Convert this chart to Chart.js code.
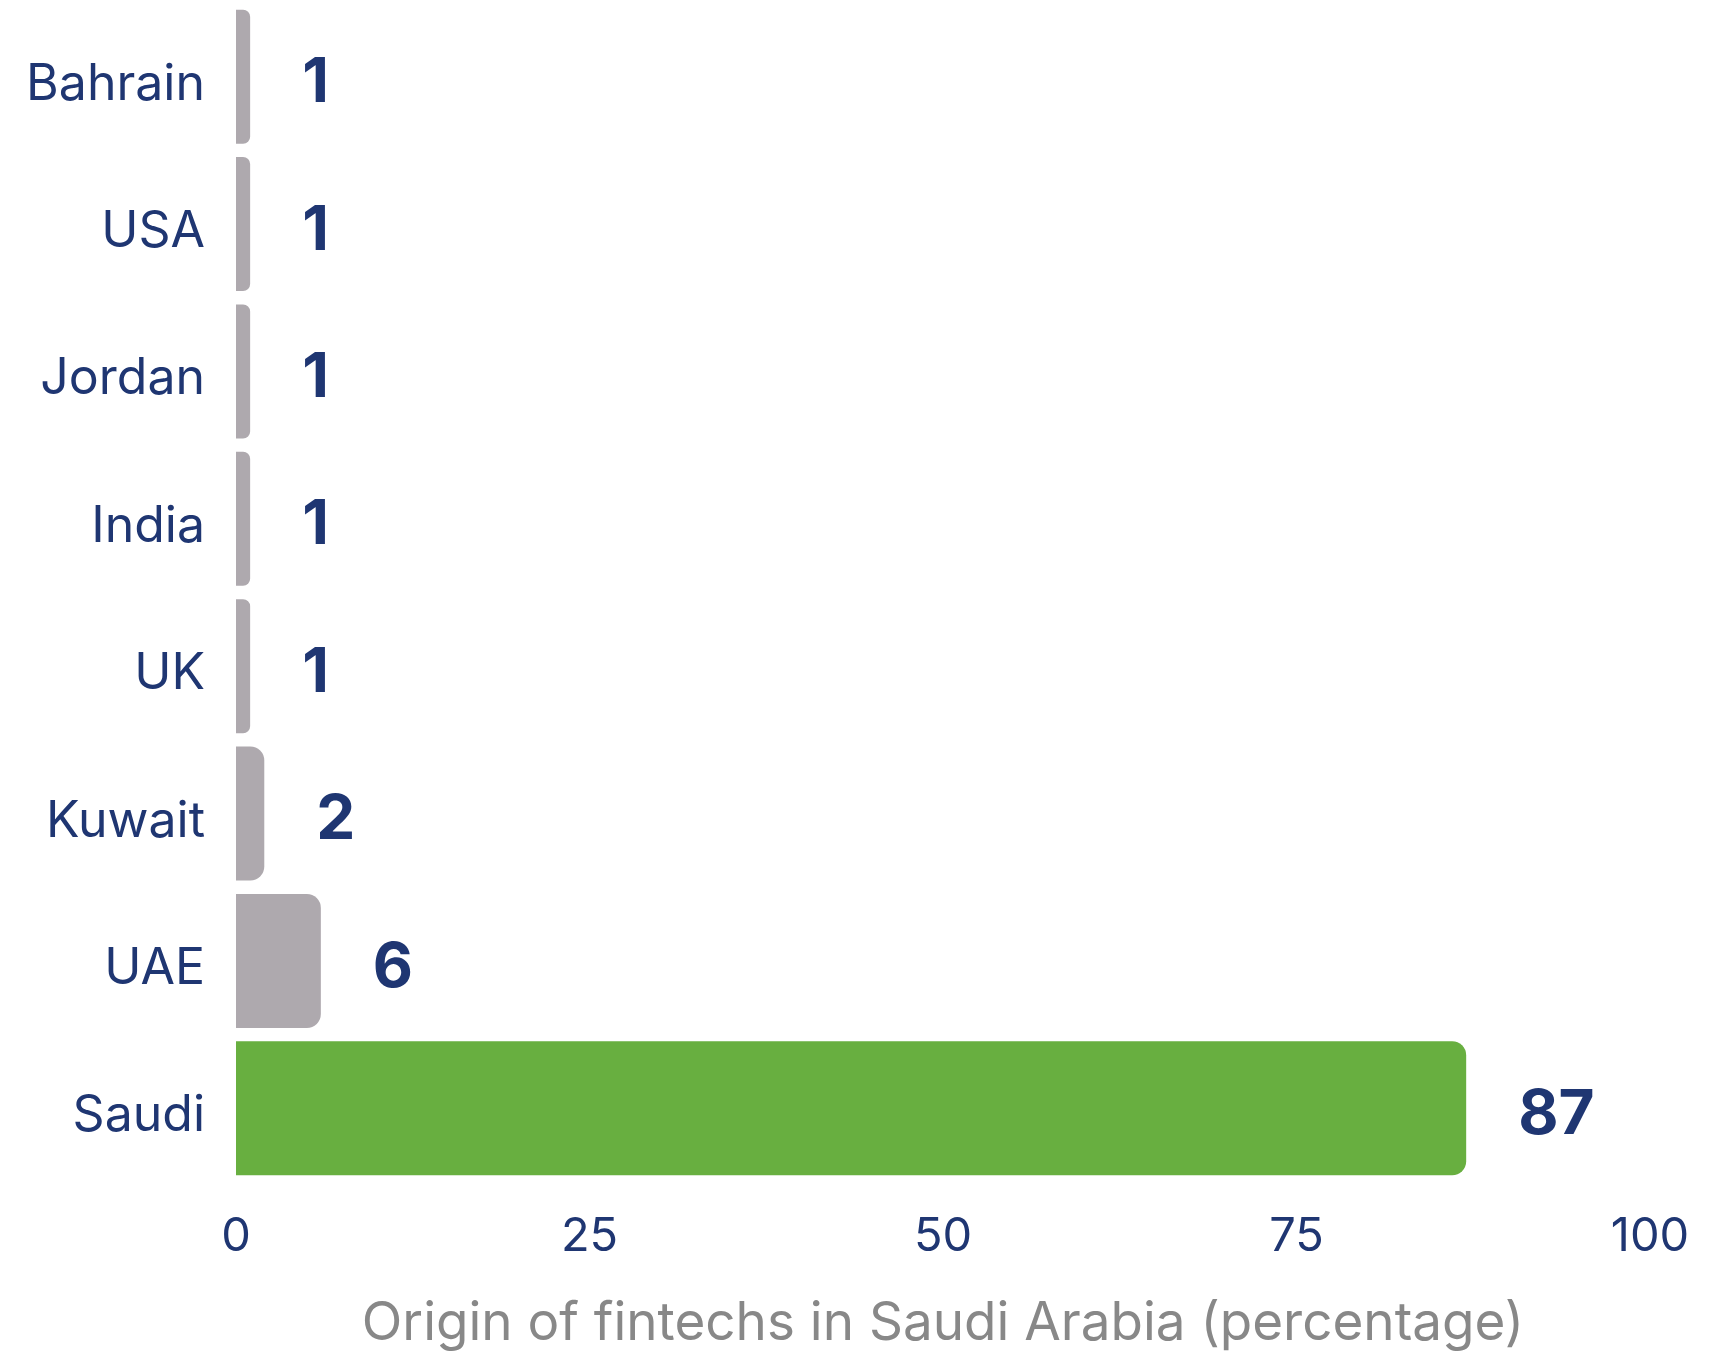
<!DOCTYPE html>
<html>
<head>
<meta charset="utf-8">
<script src="https://cdn.jsdelivr.net/npm/chart.js@4"></script>
<style>
    html, body { margin: 0; padding: 0; background: #fff; }
    #wrap { width: 1721px; height: 1351px; }
</style>
</head>
<body>
<div id="wrap"><canvas id="originChart"></canvas></div>
<script>
const countries = ["Bahrain", "USA", "Jordan", "India", "UK", "Kuwait", "UAE", "Saudi"];
const shares = [1, 1, 1, 1, 1, 2, 6, 87];
const xTicks = [0, 25, 50, 75, 100];

const navy = "#1f3672";
const grey = "#aea9ae";
const green = "#68af40";
const font = "Inter, 'Noto Sans', sans-serif";

/* value labels to the right of each bar */
const valueLabels = {
    id: "valueLabels",
    afterDatasetsDraw(chart) {
        const ctx = chart.ctx;
        ctx.save();
        ctx.fillStyle = navy;
        ctx.font = "bold 62px " + font;
        ctx.textAlign = "left";
        ctx.textBaseline = "middle";
        chart.getDatasetMeta(0).data.forEach(function (bar, i) {
            ctx.fillText(String(shares[i]), bar.x + 52, bar.y + 7);
        });
        ctx.restore();
    }
};

new Chart(document.getElementById("originChart"), {
    type: "bar",
    data: {
        labels: countries,
        datasets: [{
            data: shares,
            backgroundColor: countries.map(c => c === "Saudi" ? green : grey),
            borderRadius: { topRight: 14, bottomRight: 14 },
            borderSkipped: "start",
            barPercentage: 0.91,
            categoryPercentage: 1
        }]
    },
    options: {
        indexAxis: "y",
        responsive: true,
        maintainAspectRatio: false,
        animation: false,
        layout: { padding: { top: 3, right: 71, left: 0, bottom: 0 } },
        plugins: {
            legend: { display: false },
            tooltip: { enabled: false }
        },
        scales: {
            x: {
                min: 0,
                max: 100,
                afterBuildTicks(scale) {
                    scale.ticks = xTicks.map(v => ({ value: v }));
                },
                afterFit(scale) {
                    scale.height = 169;
                    scale.paddingLeft = 0;
                    scale.paddingRight = 0;
                },
                grid: { display: false, drawTicks: false },
                border: { display: false },
                ticks: {
                    color: navy,
                    padding: 27,
                    maxRotation: 0,
                    font: { family: font, size: 47 }
                },
                title: {
                    display: true,
                    text: "Origin of fintechs in Saudi Arabia (percentage)",
                    color: "#888888",
                    padding: 0,
                    font: { family: font, size: 53, lineHeight: 1 }
                }
            },
            y: {
                afterFit(scale) {
                    scale.width = 236;
                    scale.paddingTop = 0;
                    scale.paddingBottom = 0;
                },
                grid: { display: false, drawTicks: false },
                border: { display: false },
                ticks: {
                    color: navy,
                    padding: 31,
                    labelOffset: 8,
                    font: { family: font, size: 50 }
                }
            }
        }
    },
    plugins: [valueLabels]
});
</script>
</body>
</html>
